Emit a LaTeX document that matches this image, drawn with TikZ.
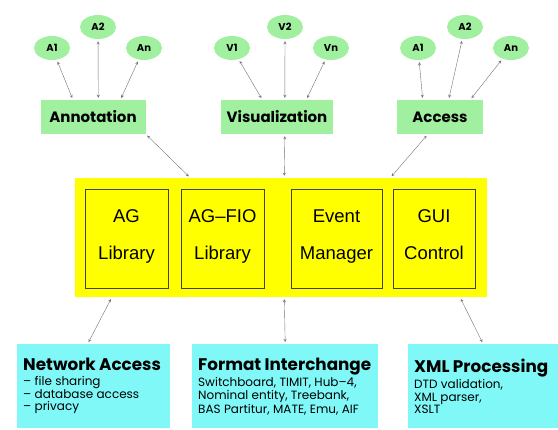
\documentclass[tikz,border=0pt]{standalone}
\usepackage{fontspec}
\setmainfont{Liberation Sans}
\newfontfamily\geofont{Poppins}
\usetikzlibrary{arrows, calc, shapes.geometric}
\definecolor{leafgreen}{RGB}{160,240,160}
\definecolor{coreyellow}{RGB}{255,255,0}
\definecolor{servicecyan}{RGB}{128,248,248}
\colorlet{link line}{black!55}
\tikzset{
  leaf/.style={ellipse, fill=leafgreen, minimum width=36pt, minimum height=24pt, inner sep=0pt,
    font=\geofont\fontsize{10}{12}\selectfont\bfseries},
  module/.style={fill=leafgreen, minimum height=34pt, inner sep=0pt,
    font=\geofont\fontsize{15}{17}\selectfont\bfseries},
  core/.style={fill=coreyellow, minimum width=412pt, minimum height=119pt},
  part/.style={fill=coreyellow, draw=black!75, line width=0.8pt, minimum height=99pt,
    align=center, font=\fontsize{18.5}{37}\selectfont},
  service/.style={fill=servicecyan, anchor=north west, align=left, inner xsep=6pt,
    inner ysep=6pt, minimum height=84pt},
  link/.style={<->, >=stealth, draw=link line, thin, shorten >=2pt, shorten <=2pt}
}
\newcommand{\servtitle}{\geofont\fontsize{16.8}{19}\selectfont\bfseries}
\newcommand{\servbody}{\geofont\fontsize{12}{13}\selectfont}

\begin{document}
\begin{tikzpicture}[x=1pt, y=-1pt]
  \useasboundingbox (0,0) rectangle (558,430);
  % applications
  \node[leaf] (a1) at (52,48) {A1};
  \node[leaf] (a2) at (98,27) {A2};
  \node[leaf] (an) at (144,48) {An};
  \node[leaf] (v1) at (232,48) {V1};
  \node[leaf] (v2) at (285,27) {V2};
  \node[leaf] (vn) at (331,48) {Vn};
  \node[leaf] (x1) at (418,48) {A1};
  \node[leaf] (x2) at (465,27) {A2};
  \node[leaf] (xn) at (511,48) {An};
  % modules
  \node[module, minimum width=105pt] (annot) at (93,117) {Annotation};
  \node[module, minimum width=112pt] (viz) at (277,117) {Visualization};
  \node[module, minimum width=86pt] (access) at (440,117) {Access};
  % core
  \node[core] (core) at (281,237.5) {};
  \node[part, minimum width=83pt] (aglib) at (126.5,238.5) {AG\\Library\\[-29pt]};
  \node[part, minimum width=83pt] (fiolib) at (222.5,238.5) {AG–FIO\\Library\\[-29pt]};
  \node[part, minimum width=91pt] (evtmgr) at (336.5,238.5) {Event\\Manager\\[-29pt]};
  \node[part, minimum width=82pt] (guictl) at (434,238.5) {GUI\\Control\\[-29pt]};
  % services
  \node[service, text width=141pt] (net) at (17,344)
    {\makebox[0pt][l]{\servtitle Network Access}\\[2pt]
     \servbody – file sharing\\ \servbody – database access\\ \servbody – privacy};
  \node[service, text width=174pt] (form) at (192,344)
    {\makebox[0pt][l]{\servtitle Format Interchange}\\[2pt]
     \servbody Switchboard, TIMIT, Hub–4,\\ \servbody Nominal entity, Treebank,\\
     \servbody BAS Partitur, MATE, Emu, AIF};
  \node[service, text width=138pt] (xml) at (408,344)
    {\makebox[0pt][l]{\servtitle XML Processing}\\[2pt]
     \servbody DTD validation,\\ \servbody XML parser,\\ \servbody XSLT};
  % application links
  \draw[link] (a1) -- ($(annot.north west)!0.31!(annot.north east)$);
  \draw[link] (a2) -- ($(annot.north west)!0.55!(annot.north east)$);
  \draw[link] (an) -- ($(annot.north west)!0.76!(annot.north east)$);
  \draw[link] (v1) -- ($(viz.north west)!0.37!(viz.north east)$);
  \draw[link] (v2) -- ($(viz.north west)!0.57!(viz.north east)$);
  \draw[link] (vn) -- ($(viz.north west)!0.76!(viz.north east)$);
  \draw[link] (x1) -- ($(access.north west)!0.3!(access.north east)$);
  \draw[link] (x2) -- ($(access.north west)!0.6!(access.north east)$);
  \draw[link] (xn) -- ($(access.north west)!0.85!(access.north east)$);
  % core links
  \draw[link] (annot.south east) -- ($(core.north west)!0.28!(core.north east)$);
  \draw[link] ($(viz.south west)!0.57!(viz.south east)$) -- ($(core.north west)!0.508!(core.north east)$);
  \draw[link] ($(access.south west)!0.36!(access.south east)$) -- ($(core.north west)!0.765!(core.north east)$);
  \draw[link] ($(core.south west)!0.09!(core.south east)$) -- ($(net.north west)!0.46!(net.north east)$);
  \draw[link] ($(core.south west)!0.508!(core.south east)$) -- ($(form.north west)!0.5!(form.north east)$);
  \draw[link] ($(core.south west)!0.934!(core.south east)$) -- (xml.north);
\end{tikzpicture}
\end{document}
